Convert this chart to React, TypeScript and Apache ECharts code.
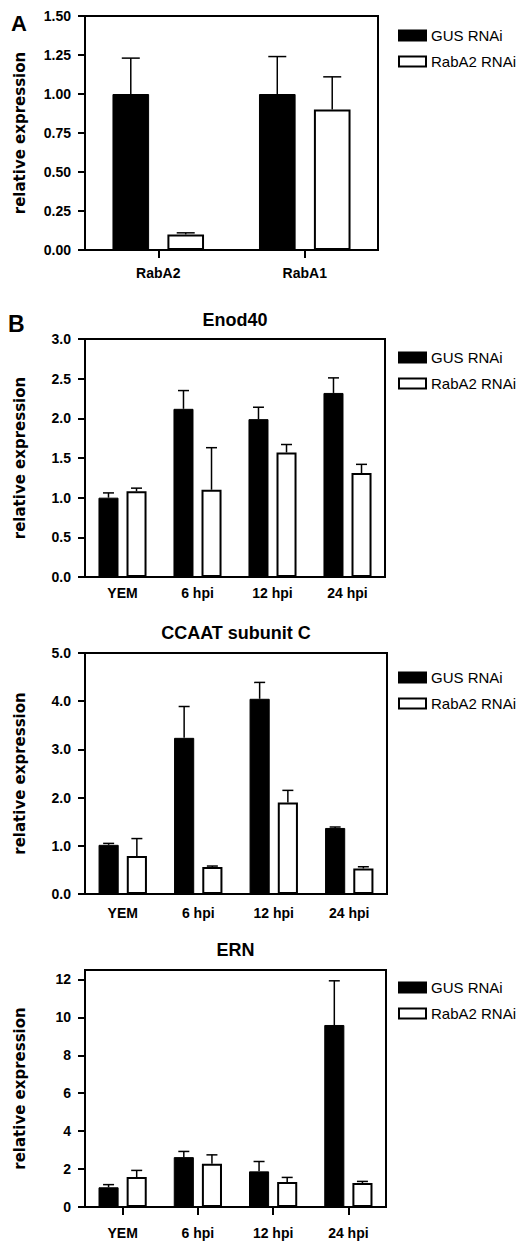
import React, { useEffect, useRef } from "react";
import * as echarts from "echarts";

// ---------- data ----------
const seriesNames = ["GUS RNAi", "RabA2 RNAi"];

const catsA = ["RabA2", "RabA1"];
const gusA = [1.0, 1.0];
const gusAErr = [0.23, 0.24];
const rnaiA = [0.1, 0.9];
const rnaiAErr = [0.01, 0.21];

const catsB = ["YEM", "6 hpi", "12 hpi", "24 hpi"];

const enodGus = [1.0, 2.12, 1.99, 2.32];
const enodGusErr = [0.06, 0.23, 0.15, 0.19];
const enodRnai = [1.08, 1.1, 1.57, 1.31];
const enodRnaiErr = [0.04, 0.53, 0.1, 0.11];

const ccaatGus = [1.02, 3.24, 4.05, 1.37];
const ccaatGusErr = [0.03, 0.65, 0.34, 0.02];
const ccaatRnai = [0.79, 0.56, 1.9, 0.53];
const ccaatRnaiErr = [0.36, 0.02, 0.25, 0.035];

const ernGus = [1.04, 2.63, 1.88, 9.6];
const ernGusErr = [0.14, 0.3, 0.52, 2.33];
const ernRnai = [1.58, 2.28, 1.32, 1.26];
const ernRnaiErr = [0.35, 0.47, 0.24, 0.09];

// axis ranges / ticks
const yA = { max: 1.5, interval: 0.25, digits: 2 };
const yEnod = { max: 3.0, interval: 0.5, digits: 1 };
const yCcaat = { max: 5.0, interval: 1, digits: 1 };
const yErn = { max: 12.5, interval: 2, digits: 0 };
const ernTicks = [0, 2, 4, 6, 8, 10, 12];

const panelTitles = ["Enod40", "CCAAT subunit C", "ERN"];

// ---------- styling ----------
const FONT = "'Liberation Sans', Arial, sans-serif";
const NAME_FONT = "'DejaVu Sans', 'Liberation Sans', sans-serif";

type Panel = {
  cats: string[];
  gus: number[];
  gusErr: number[];
  rnai: number[];
  rnaiErr: number[];
  y: { max: number; interval: number; digits: number };
  grid: { left: number; top: number; width: number; height: number };
  barWidth: number; // fraction of band
  barGap: number; // fraction of bar width
  xTicks: boolean;
  labelMargin: number;
  capHalf: number;
  legendTop: number;
  customTicks?: number[];
};

const panels: Panel[] = [
  {
    cats: catsA, gus: gusA, gusErr: gusAErr, rnai: rnaiA, rnaiErr: rnaiAErr,
    y: yA, grid: { left: 85, top: 16, width: 293, height: 234 },
    barWidth: 0.25, barGap: 0.5, xTicks: true, labelMargin: 16, capHalf: 9, legendTop: 28,
  },
  {
    cats: catsB, gus: enodGus, gusErr: enodGusErr, rnai: enodRnai, rnaiErr: enodRnaiErr,
    y: yEnod, grid: { left: 85, top: 339, width: 300, height: 238 },
    barWidth: 0.267, barGap: 0.4, xTicks: false, labelMargin: 9, capHalf: 5.5, legendTop: 350,
  },
  {
    cats: catsB, gus: ccaatGus, gusErr: ccaatGusErr, rnai: ccaatRnai, rnaiErr: ccaatRnaiErr,
    y: yCcaat, grid: { left: 85, top: 653, width: 302, height: 241 },
    barWidth: 0.267, barGap: 0.4, xTicks: false, labelMargin: 12, capHalf: 5.5, legendTop: 670,
  },
  {
    cats: catsB, gus: ernGus, gusErr: ernGusErr, rnai: ernRnai, rnaiErr: ernRnaiErr,
    y: yErn, grid: { left: 85, top: 970, width: 301, height: 237 },
    barWidth: 0.267, barGap: 0.4, xTicks: true, labelMargin: 19, capHalf: 5.5, legendTop: 980,
    customTicks: ernTicks,
  },
];

function buildOption() {
  const grids: any[] = [];
  const xAxes: any[] = [];
  const yAxes: any[] = [];
  const series: any[] = [];
  const legends: any[] = [];

  panels.forEach((p, i) => {
    grids.push({
      left: p.grid.left, top: p.grid.top, width: p.grid.width, height: p.grid.height,
      show: true, borderColor: "#000", borderWidth: 2, backgroundColor: "transparent",
      containLabel: false,
    });
    xAxes.push({
      type: "category", gridIndex: i, data: p.cats,
      axisLine: { show: true, lineStyle: { color: "#000", width: 2 } },
      axisTick: { show: p.xTicks, alignWithLabel: true, length: 8, lineStyle: { color: "#000", width: 2 } },
      axisLabel: { color: "#000", fontFamily: FONT, fontWeight: "bold", fontSize: 14, margin: p.labelMargin },
      splitLine: { show: false },
    });
    const yAxis: any = {
      type: "value", gridIndex: i, min: 0, max: p.y.max, interval: p.y.interval,
      name: "relative expression", nameLocation: "middle", nameGap: 58,
      nameTextStyle: { color: "#000", fontFamily: NAME_FONT, fontWeight: "bold", fontSize: 15 },
      axisLine: { show: true, lineStyle: { color: "#000", width: 2 } },
      axisTick: { show: true, length: 7, lineStyle: { color: "#000", width: 2 } },
      axisLabel: {
        color: "#000", fontFamily: FONT, fontWeight: "bold", fontSize: 14, margin: 14,
        formatter: (v: number) => v.toFixed(p.y.digits),
      },
      splitLine: { show: false },
    };
    if (p.customTicks) {
      yAxis.axisLabel.customValues = p.customTicks;
      yAxis.axisTick.customValues = p.customTicks;
    }
    yAxes.push(yAxis);

    const bw = (p.barWidth * 100).toFixed(1) + "%";
    const gap = (p.barGap * 100).toFixed(0) + "%";
    series.push({
      type: "bar", name: seriesNames[0], xAxisIndex: i, yAxisIndex: i, data: p.gus,
      barWidth: bw, barGap: gap,
      itemStyle: { color: "#000", borderColor: "#000", borderWidth: 1 },
    });
    series.push({
      type: "bar", name: seriesNames[1], xAxisIndex: i, yAxisIndex: i, data: p.rnai,
      barWidth: bw, barGap: gap,
      itemStyle: { color: "#fff", borderColor: "#000", borderWidth: 2 },
    });
    const offFrac = (p.barWidth * (1 + p.barGap)) / 2;
    const mkErr = (vals: number[], errs: number[], sign: number, nm: string) => ({
      type: "custom", name: nm, xAxisIndex: i, yAxisIndex: i, z: 5,
      encode: { x: 0, y: 1 },
      data: vals.map((v, k) => [k, v, errs[k]]),
      renderItem: (_params: any, api: any) => {
        const c = api.value(0);
        const m = api.value(1);
        const e = api.value(2);
        const base = api.coord([c, m]);
        const top = api.coord([c, m + e]);
        const band = api.size([1, 0])[0];
        const x = base[0] + sign * band * offFrac;
        const st = { stroke: "#000", lineWidth: 1.5 };
        return {
          type: "group",
          children: [
            { type: "line", shape: { x1: x, y1: base[1], x2: x, y2: top[1] }, style: st },
            { type: "line", shape: { x1: x - p.capHalf, y1: top[1], x2: x + p.capHalf, y2: top[1] }, style: st },
          ],
        };
      },
    });
    series.push(mkErr(p.gus, p.gusErr, -1, "gusErr" + i));
    series.push(mkErr(p.rnai, p.rnaiErr, 1, "rnaiErr" + i));

    legends.push({
      show: true, orient: "vertical", left: 398, top: p.legendTop,
      itemWidth: 27, itemHeight: 10, itemGap: 11, padding: 0,
      icon: "rect", selectedMode: false,
      data: seriesNames,
      textStyle: { color: "#000", fontFamily: FONT, fontSize: 15 },
    });
  });

  const titles: any[] = [
    { text: "A", left: 11, top: 12, padding: 0, textStyle: { fontFamily: FONT, fontWeight: "bold", fontSize: 22, color: "#000" } },
    { text: "B", left: 8, top: 312, padding: 0, textStyle: { fontFamily: FONT, fontWeight: "bold", fontSize: 23, color: "#000" } },
  ];
  const titleTops = [311, 624, 941];
  panelTitles.forEach((t, k) => {
    const g = panels[k + 1].grid;
    titles.push({
      text: t, left: g.left + g.width / 2, top: titleTops[k], textAlign: "center", padding: 0,
      textStyle: { fontFamily: FONT, fontWeight: "bold", fontSize: 18, color: "#000" },
    });
  });

  return {
    animation: false,
    backgroundColor: "#fff",
    title: titles,
    legend: legends,
    grid: grids,
    xAxis: xAxes,
    yAxis: yAxes,
    series,
  };
}

export default function App() {
  const ref = useRef<HTMLDivElement>(null);
  useEffect(() => {
    if (!ref.current) return;
    const chart = echarts.init(ref.current, undefined, { renderer: "svg" });
    chart.setOption(buildOption());
    return () => chart.dispose();
  }, []);
  return (
    <div
      ref={ref}
      style={{ position: "absolute", left: 0, top: 0, width: 519, height: 1242, background: "#fff" }}
    />
  );
}
